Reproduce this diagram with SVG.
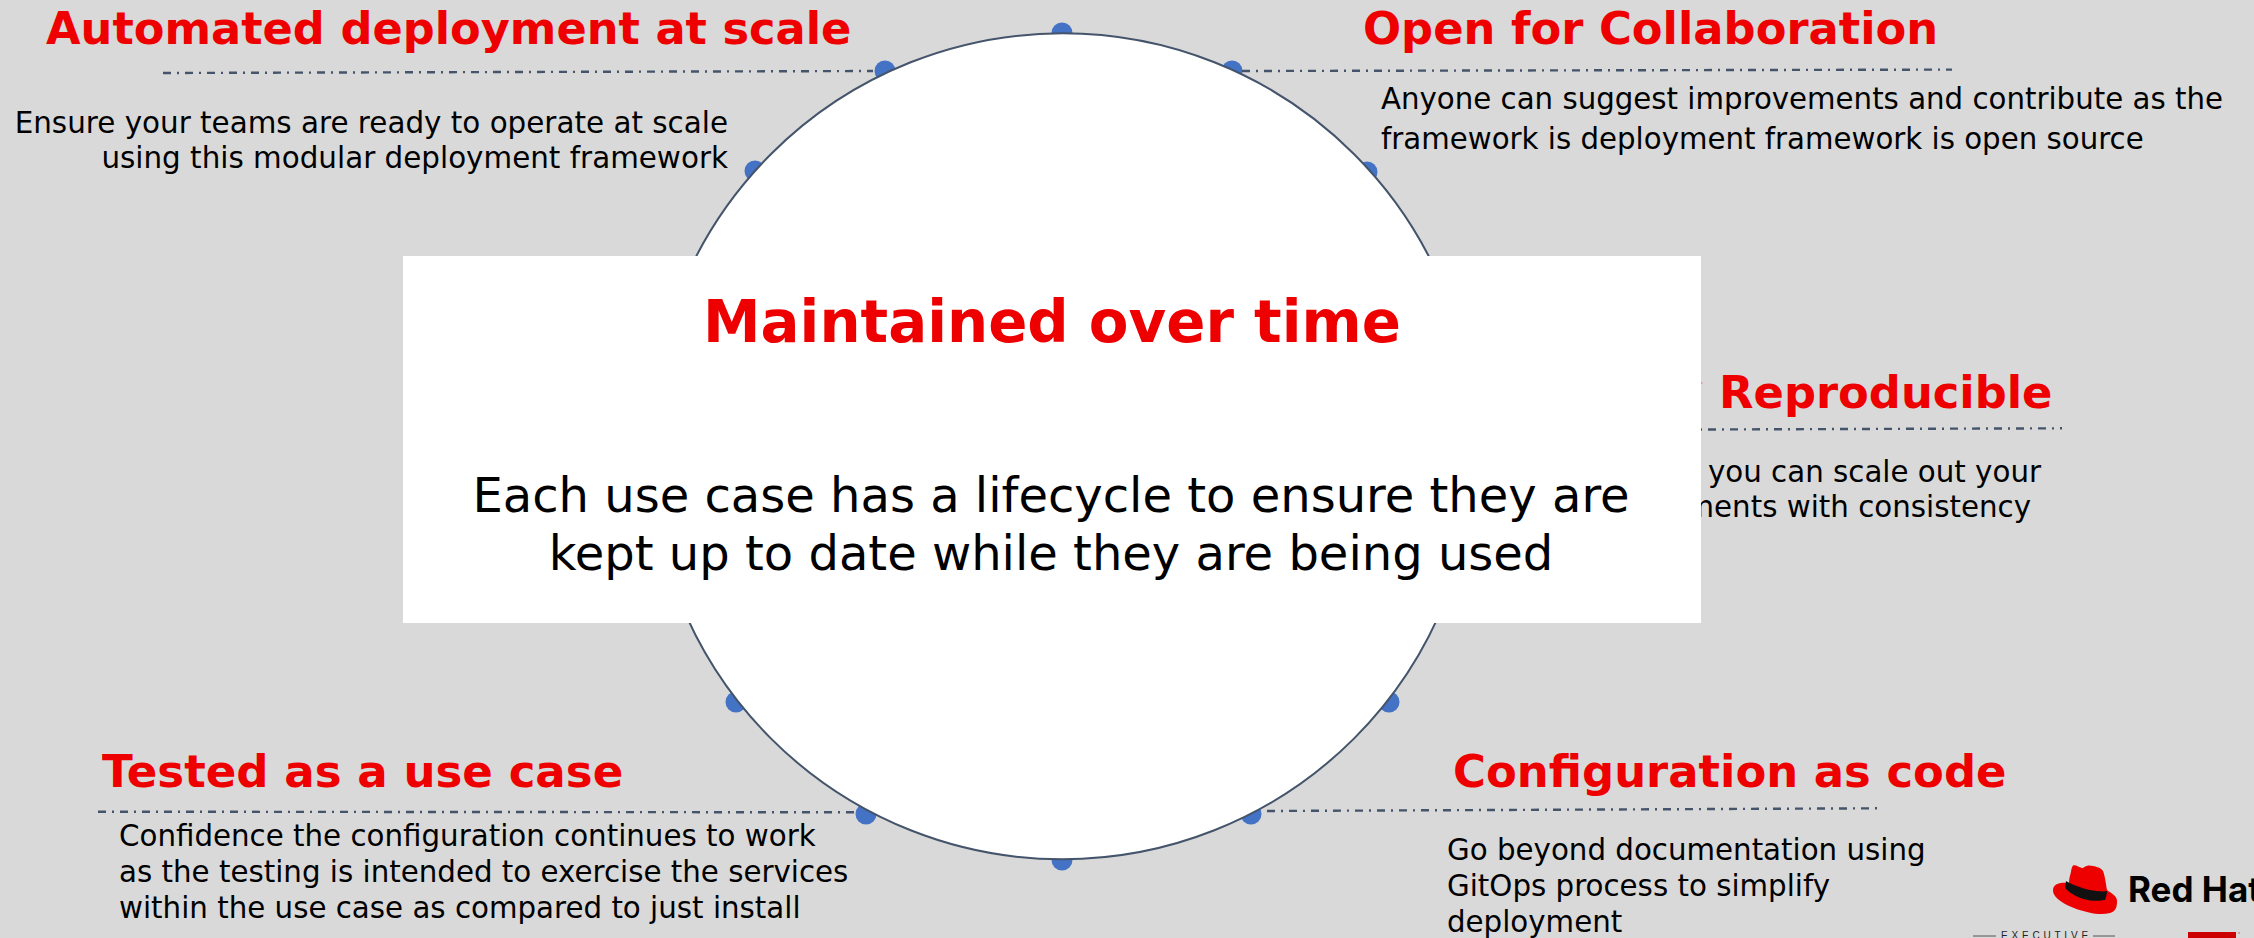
<svg xmlns="http://www.w3.org/2000/svg" width="2254" height="938" viewBox="0 0 2254 938">
<style>
text{font-family:"DejaVu Sans","Liberation Sans",sans-serif}
.t{font-weight:700;font-size:44.8px;fill:#e00}
.b{font-size:29.3px;fill:#000}
.r{stroke:#44546a;stroke-width:2.4;stroke-dasharray:8 6 2 6;fill:none}
.d{fill:#4472c4}
</style>
<rect width="2254" height="938" fill="#d9d9d9"/>
<g id="dots">
<circle class="d" cx="1062" cy="33" r="10.5"/>
<circle class="d" cx="885" cy="71" r="10.5"/>
<circle class="d" cx="755" cy="171" r="10.5"/>
<circle class="d" cx="1232" cy="71" r="10.5"/>
<circle class="d" cx="1367" cy="172" r="10.5"/>
<circle class="d" cx="736" cy="702" r="10.5"/>
<circle class="d" cx="866" cy="814" r="10.5"/>
<circle class="d" cx="1389" cy="702" r="10.5"/>
<circle class="d" cx="1251" cy="814" r="10.5"/>
<circle class="d" cx="1062" cy="860" r="10.5"/>
</g>
<g id="connectors">
<path class="r" d="M163 73L873 71"/>
<path class="r" d="M1242 71L1952 69.600"/>
<path class="r" d="M1400 430.500L2062 428.300"/>
<path class="r" d="M98 811.700L856 812.300"/>
<path class="r" d="M1267 811L1877 808.300"/>
</g>
<g id="hub"><ellipse cx="1062.500" cy="446.300" rx="412.500" ry="413" fill="#fff" stroke="#44546a" stroke-width="2"/></g>
<g id="automated"><text class="t" x="46" y="44" font-size="44.7" style="font-size:44.7px">Automated deployment at scale</text>
<text class="b" x="728" y="133" text-anchor="end" style="font-size:29.4px">Ensure your teams are ready to operate at scale</text>
<text class="b" x="728" y="168" text-anchor="end" style="font-size:29.4px">using this modular deployment framework</text></g>
<g id="open"><text class="t" x="1363" y="44">Open for Collaboration</text>
<text class="b" x="1381" y="108.500" style="font-size:29.25px">Anyone can suggest improvements and contribute as the</text>
<text class="b" x="1381" y="148.500" style="font-size:29.25px">framework is deployment framework is open source</text></g>
<g id="reproducible"><text class="t" x="1719" y="408">Reproducible</text>
<text class="b" x="2041" y="482" text-anchor="end">you can scale out your</text>
<text class="b" x="2031" y="517" text-anchor="end">ments with consistency</text>
<rect x="1700" y="382" width="2.500" height="2" fill="#ee9a9a"/></g>
<g id="tested"><text class="t" x="102" y="787" style="font-size:45.1px">Tested as a use case</text>
<text class="b" x="119" y="846">Confidence the configuration continues to work</text>
<text class="b" x="119" y="882">as the testing is intended to exercise the services</text>
<text class="b" x="119" y="918">within the use case as compared to just install</text></g>
<g id="config"><text class="t" x="1453" y="787" style="font-size:44.9px">Configuration as code</text>
<text class="b" x="1447" y="860">Go beyond documentation using</text>
<text class="b" x="1447" y="896">GitOps process to simplify</text>
<text class="b" x="1447" y="932">deployment</text></g>
<g id="center"><rect x="403" y="256" width="1298" height="367" fill="#fff"/>
<text x="1052" y="342" text-anchor="middle" font-size="57.800" font-weight="700" fill="#e00">Maintained over time</text>
<text x="1051" y="512" text-anchor="middle" font-size="48" fill="#000">Each use case has a lifecycle to ensure they are</text>
<text x="1051" y="570" text-anchor="middle" font-size="48" fill="#000">kept up to date while they are being used</text></g>
<g id="logo">
<path d="M2073 865.500c3-1 6 2 9 2.500c2 0 4-3 7-2.500c6 .5 12 2 14 5.500c2 5 3 13 4 19c4 3 10 6 10 11c0 6-1 10-7 12c-7 2-14 1-21-.5c-8-2-15-4-21-7c-8-4-15-9-15-15c0-5 4-7 8-7.500c3-.5 6 0 8 0c0-4 1-8 2-11c0-2 1-5 2-6.500z" fill="#e00"/>
<path d="M2066 881c5 3 15 7 24 9c6 1 13 2 17 1c0 3-1 6-2 9c-6 1-10 1-15 .5c-6-1-11-3-15-5c-4-2-8-5-10-8z" fill="#111"/>
<text x="2128" y="902" style="font-family:Inter,'Liberation Sans',sans-serif" font-weight="700" font-size="35" fill="#000">Red Hat</text>
<text x="2001" y="939" style="font-family:'Liberation Sans',sans-serif" font-size="10" letter-spacing="3.800" fill="#222">EXECUTIVE</text>
<path d="M1973 936H1996M2093 936H2115" stroke="#555" stroke-width="1"/>
<rect x="2188" y="932" width="48" height="6" fill="#c00"/>
<circle cx="2239" cy="933" r="1" fill="#d88"/>
</g>
</svg>
